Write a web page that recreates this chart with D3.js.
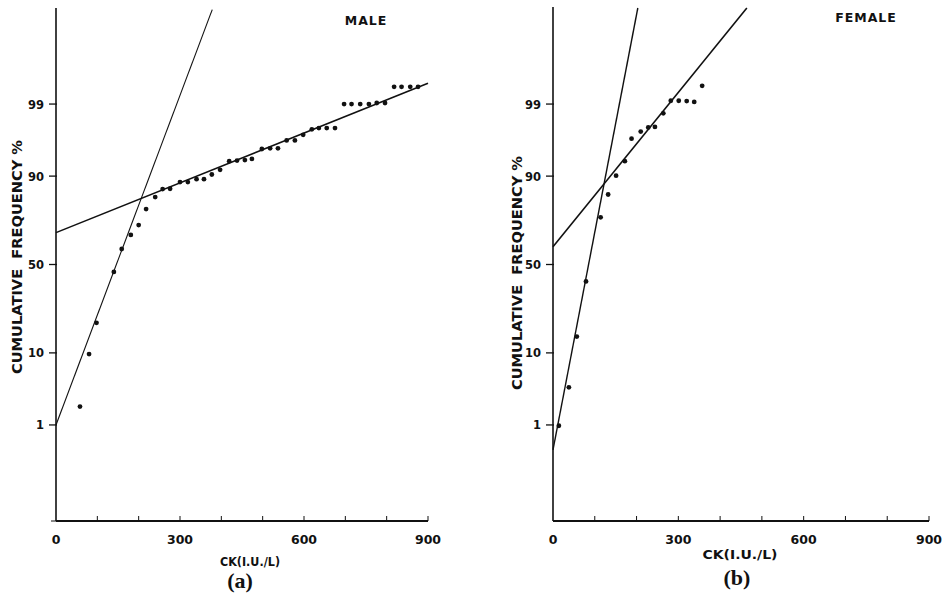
<!DOCTYPE html>
<html>
<head>
<meta charset="utf-8">
<script src="https://cdn.jsdelivr.net/npm/d3@7"></script>
<style>
  body { margin: 0; background: #fff; }
  svg { display: block; }
</style>
</head>
<body>
<svg id="chart" width="946" height="611"></svg>
<script>
// values: CK (I.U./L) and cumulative frequency (%)
var maleCK  = [58, 80, 98, 140, 159, 181, 200, 218, 240, 258, 276, 300, 319, 340, 358, 377, 397, 419, 438, 457, 474,
               498, 518, 537, 558, 578, 598, 619, 636, 655, 675, 697, 715, 736, 757, 776, 796, 818, 836, 857, 876];
var maleCum = [1.97, 9.7, 19.9, 45.7, 58.9, 66.6, 71.6, 78.9, 83.6, 86.3, 86.4, 88.4, 88.4, 89.2, 89.2, 90.4, 91.5, 93.3, 93.4, 93.5, 93.7,
               95.3, 95.4, 95.4, 96.4, 96.4, 97.0, 97.5, 97.6, 97.6, 97.6, 99.0, 99.0, 99.0, 99.0, 99.04, 99.04, 99.5, 99.5, 99.5, 99.5];

var femaleCK  = [14, 38, 57, 79, 114, 132, 151, 172, 188, 210, 228, 244, 264, 282, 301, 320, 338, 357];
var femaleCum = [0.97, 3.75, 14.8, 40.3, 75.3, 84.5, 90.1, 93.3, 96.6, 97.3, 97.66, 97.7, 98.58, 99.12, 99.12, 99.11, 99.08, 99.52];

// fitted straight lines (end points: [CK, cum %])
var maleLineSteep   = [[0, 1], [378, 99.989]];
var maleLineFlat    = [[0, 67.8], [900, 99.57]];
var femaleLineSteep = [[0, 0.36], [203, 99.99]];
var femaleLineFlat  = [[0, 60.2], [464, 99.99]];

var yTicks = [1, 10, 50, 90, 99];
var xTickLabels = [0, 300, 600, 900];
var xMinorTicks = [100, 200, 300, 400, 500, 600, 700, 800, 900];

// inverse normal cdf (Acklam) for the probability axis
function probit(p) {
  var a = [-3.969683028665376e+01, 2.209460984245205e+02, -2.759285104469687e+02, 1.383577518672690e+02, -3.066479806614716e+01, 2.506628277459239e+00];
  var b = [-5.447609879822406e+01, 1.615858368580409e+02, -1.556989798598866e+02, 6.680131188771972e+01, -1.328068155288572e+01];
  var c = [-7.784894002430293e-03, -3.223964580411365e-01, -2.400758277161838e+00, -2.549732539343734e+00, 4.374664141464968e+00, 2.938163982698783e+00];
  var d = [7.784695709041462e-03, 3.224671290700398e-01, 2.445134137142996e+00, 3.754408661907416e+00];
  var pl = 0.02425, q, r;
  if (p < pl) {
    q = Math.sqrt(-2 * Math.log(p));
    return (((((c[0]*q+c[1])*q+c[2])*q+c[3])*q+c[4])*q+c[5]) / ((((d[0]*q+d[1])*q+d[2])*q+d[3])*q+1);
  }
  if (p <= 1 - pl) {
    q = p - 0.5; r = q * q;
    return (((((a[0]*r+a[1])*r+a[2])*r+a[3])*r+a[4])*r+a[5])*q / (((((b[0]*r+b[1])*r+b[2])*r+b[3])*r+b[4])*r+1);
  }
  q = Math.sqrt(-2 * Math.log(1 - p));
  return -(((((c[0]*q+c[1])*q+c[2])*q+c[3])*q+c[4])*q+c[5]) / ((((d[0]*q+d[1])*q+d[2])*q+d[3])*q+1);
}

var svg = d3.select("#chart");
var ink = "#111";
var fontSans = "'DejaVu Sans', Verdana, sans-serif";

function drawPanel(opt) {
  var x = d3.scaleLinear().domain([0, 900]).range([opt.left, opt.right]);
  var yz = d3.scaleLinear().domain([probit(0.0001), probit(0.9999)]).range([opt.bottom, opt.top]);
  var y = function(p) { return yz(probit(p / 100)); };

  var g = svg.append("g");

  // axes
  g.append("line")
    .attr("x1", opt.left).attr("x2", opt.left)
    .attr("y1", opt.axisTop).attr("y2", opt.bottom)
    .attr("stroke", ink).attr("stroke-width", 1.6);
  g.append("line")
    .attr("x1", opt.left).attr("x2", opt.right)
    .attr("y1", opt.bottom).attr("y2", opt.bottom)
    .attr("stroke", ink).attr("stroke-width", 1.8);

  // x minor ticks (pointing up)
  g.selectAll(".xt").data(xMinorTicks).enter().append("line")
    .attr("x1", function(d) { return x(d); }).attr("x2", function(d) { return x(d); })
    .attr("y1", opt.bottom).attr("y2", opt.bottom - 5)
    .attr("stroke", ink).attr("stroke-width", 1);

  g.selectAll(".xl").data(xTickLabels).enter().append("text")
    .attr("x", function(d) { return x(d); })
    .attr("y", opt.bottom + 23)
    .attr("text-anchor", "middle")
    .style("font-family", fontSans).style("font-weight", "bold").style("font-size", "12.5px")
    .attr("fill", ink)
    .text(function(d) { return d; });

  // y ticks
  g.selectAll(".yt").data(yTicks).enter().append("line")
    .attr("x1", opt.left - 7).attr("x2", opt.left + 1)
    .attr("y1", function(d) { return y(d); }).attr("y2", function(d) { return y(d); })
    .attr("stroke", ink).attr("stroke-width", 1.3);
  if (opt.bottomTick) {
    g.append("line")
      .attr("x1", opt.left - 5).attr("x2", opt.left)
      .attr("y1", y(0.01)).attr("y2", y(0.01))
      .attr("stroke", ink).attr("stroke-width", 1);
  }
  g.selectAll(".yl").data(yTicks).enter().append("text")
    .attr("x", opt.left - 12)
    .attr("y", function(d) { return y(d) + 4.5; })
    .attr("text-anchor", "end")
    .style("font-family", fontSans).style("font-weight", "bold").style("font-size", "11.5px")
    .attr("fill", ink)
    .text(function(d) { return d; });

  // axis titles
  g.append("text")
    .attr("transform", "translate(" + opt.yTitleX + "," + opt.yTitleY + ") rotate(-90)")
    .attr("text-anchor", "middle")
    .attr("textLength", 234).attr("lengthAdjust", "spacingAndGlyphs")
    .style("white-space", "pre")
    .style("font-family", fontSans).style("font-weight", "bold").style("font-size", "14px")
    .attr("fill", ink)
    .text("CUMULATIVE  FREQUENCY %");

  g.append("text")
    .attr("x", opt.xTitleX).attr("y", opt.xTitleY)
    .attr("text-anchor", "middle")
    .attr("textLength", opt.xTitleLen).attr("lengthAdjust", "spacingAndGlyphs")
    .style("font-family", fontSans).style("font-weight", "bold").style("font-size", "12.5px")
    .attr("fill", ink)
    .text("CK(I.U./L)");

  g.append("text")
    .attr("x", opt.sexX).attr("y", opt.sexY)
    .attr("text-anchor", "middle")
    .style("font-family", fontSans).style("font-weight", "bold").style("font-size", "12.5px")
    .style("letter-spacing", "1px")
    .attr("fill", ink)
    .text(opt.sex);

  g.append("text")
    .attr("x", opt.capX).attr("y", opt.capY)
    .attr("text-anchor", "middle")
    .style("font-family", "'Liberation Serif', 'Times New Roman', serif").style("font-weight", "bold").style("font-size", "22px")
    .attr("fill", ink)
    .text(opt.caption);

  // fitted lines
  var line = d3.line()
    .x(function(d) { return x(d[0]); })
    .y(function(d) { return y(d[1]); });
  g.append("path").datum(opt.steep).attr("d", line)
    .attr("fill", "none").attr("stroke", ink).attr("stroke-width", opt.steepWidth);
  g.append("path").datum(opt.flat).attr("d", line)
    .attr("fill", "none").attr("stroke", ink).attr("stroke-width", 1.6);

  // observed points
  g.selectAll(".pt").data(opt.ck).enter().append("circle")
    .attr("cx", function(d) { return x(d); })
    .attr("cy", function(d, i) { return y(opt.cum[i]); })
    .attr("r", 2.4)
    .attr("fill", ink);
}

drawPanel({
  left: 56, right: 428, top: 8, bottom: 521, axisTop: 8,
  ck: maleCK, cum: maleCum, steep: maleLineSteep, flat: maleLineFlat, steepWidth: 1.1,
  bottomTick: true,
  yTitleX: 22, yTitleY: 257,
  xTitleX: 250, xTitleY: 566, xTitleLen: 60,
  sex: "MALE", sexX: 366, sexY: 25,
  caption: "(a)", capX: 240, capY: 588
});

drawPanel({
  left: 553, right: 929, top: 8, bottom: 521, axisTop: 7,
  ck: femaleCK, cum: femaleCum, steep: femaleLineSteep, flat: femaleLineFlat, steepWidth: 1.4,
  bottomTick: false,
  yTitleX: 522, yTitleY: 273,
  xTitleX: 740, xTitleY: 559, xTitleLen: 75,
  sex: "FEMALE", sexX: 866, sexY: 22,
  caption: "(b)", capX: 737, capY: 585
});
</script>
</body>
</html>
